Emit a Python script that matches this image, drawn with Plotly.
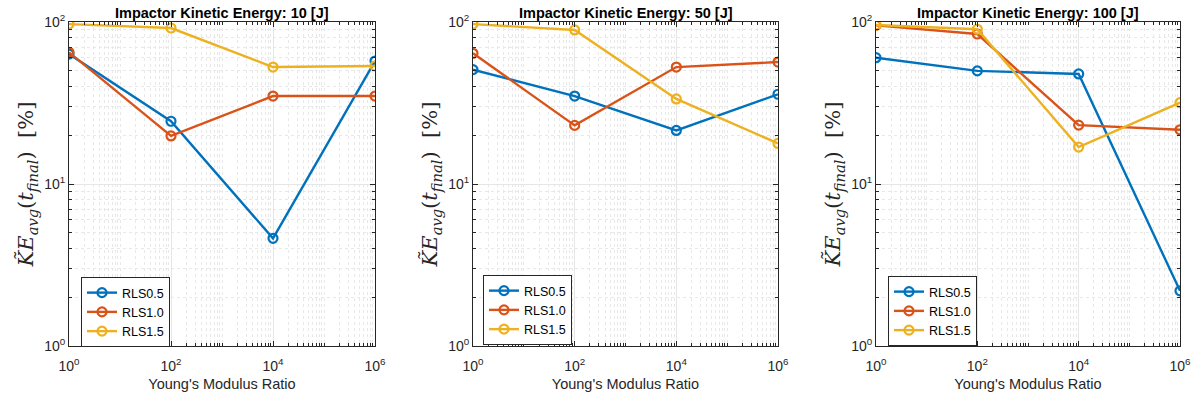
import plotly.graph_objects as go

x_ratio = [1, 100, 1e4, 1e6]
series_names = ["RLS0.5", "RLS1.0", "RLS1.5"]
energies = ["10", "50", "100"]

ke_10_rls05 = [63.4, 24.4, 4.62, 57.4]
ke_10_rls10 = [65.0, 19.8, 34.9, 34.9]
ke_10_rls15 = [97.0, 91.8, 52.7, 53.5]

ke_50_rls05 = [50.8, 34.9, 21.4, 35.8]
ke_50_rls10 = [64.1, 23.0, 52.7, 56.6]
ke_50_rls15 = [97.0, 89.3, 33.5, 17.8]

ke_100_rls05 = [60.2, 49.9, 47.8, 2.19]
ke_100_rls10 = [95.3, 84.3, 23.1, 21.6]
ke_100_rls15 = [95.8, 90.2, 16.9, 31.8]

panels = [
    [ke_10_rls05, ke_10_rls10, ke_10_rls15],
    [ke_50_rls05, ke_50_rls10, ke_50_rls15],
    [ke_100_rls05, ke_100_rls10, ke_100_rls15],
]
colors = ["#0072BD", "#D95319", "#EDB120"]

W, H = 1198, 400
px_x = [(69, 375), (473, 778), (876, 1180)]
py_top, py_bot = 22, 346
legend_pos = [(81, 277), (483, 275), (888, 276)]

fig = go.Figure()
axis_col = "#262626"
font_main = "Liberation Sans, Arial, Helvetica, sans-serif"

x_minor = [k * 10 ** d for d in range(0, 6) for k in range(1, 10) if not (k == 1 and d % 2 == 0)]
y_minor = [k * 10 ** d for d in range(0, 2) for k in range(2, 10)]

for i, vals in enumerate(panels):
    sfx = "" if i == 0 else str(i + 1)
    leg = "legend" if i == 0 else f"legend{i + 1}"
    for j, v in enumerate(vals):
        fig.add_trace(go.Scatter(
            x=x_ratio, y=v, mode="lines+markers", name=series_names[j],
            line=dict(color=colors[j], width=2.4),
            marker=dict(symbol="circle-open", size=9, color=colors[j], line=dict(width=2.2)),
            xaxis="x" + sfx, yaxis="y" + sfx, legend=leg, showlegend=True,
        ))
    x0, x1 = px_x[i]
    xa = dict(
        type="log", range=[0, 6], domain=[x0 / W, x1 / W], anchor="y" + sfx,
        automargin=False,
        tickvals=[1, 100, 1e4, 1e6],
        ticktext=["10<sup>0</sup>", "10<sup>2</sup>", "10<sup>4</sup>", "10<sup>6</sup>"],
        ticks="inside", ticklen=5, tickcolor=axis_col, tickwidth=1,
        ticklabelstandoff=7,
        showline=True, linecolor=axis_col, linewidth=1, mirror="ticks",
        showgrid=True, gridcolor="#e6e6e6", gridwidth=1,
        minor=dict(tickvals=x_minor, showgrid=True, gridcolor="#e8e8e8", griddash="dot",
                   ticks="inside", ticklen=3, tickcolor=axis_col),
        tickfont=dict(family=font_main, size=14, color=axis_col),
        title=dict(text="Young's Modulus Ratio", font=dict(family=font_main, size=14.5, color=axis_col), standoff=6),
        zeroline=False,
    )
    ya = dict(
        type="log", range=[0, 2], domain=[(H - py_bot) / H, (H - py_top) / H], anchor="x" + sfx,
        automargin=False,
        tickvals=[1, 10, 100],
        ticktext=["10<sup>0</sup>", "10<sup>1</sup>", "10<sup>2</sup>"],
        ticks="inside", ticklen=5, tickcolor=axis_col, tickwidth=1,
        showline=True, linecolor=axis_col, linewidth=1, mirror="ticks",
        showgrid=True, gridcolor="#e6e6e6", gridwidth=1,
        minor=dict(tickvals=y_minor, showgrid=True, gridcolor="#e8e8e8", griddash="dot",
                   ticks="inside", ticklen=3, tickcolor=axis_col),
        tickfont=dict(family=font_main, size=14, color=axis_col),
        title=dict(text="<i>K̃E</i><sub><i>avg</i></sub>(<i>t</i><sub><i>final</i></sub>)  [%]",
                   font=dict(family="DejaVu Serif, Liberation Serif, serif", size=21, color=axis_col), standoff=4),
        zeroline=False,
    )
    fig.layout["xaxis" + sfx] = xa
    fig.layout["yaxis" + sfx] = ya
    lx, ly = legend_pos[i]
    fig.layout[leg] = dict(
        x=lx / W, y=(H - ly) / H, xanchor="left", yanchor="top",
        bgcolor="white", bordercolor=axis_col, borderwidth=1,
        font=dict(family=font_main, size=12.5, color="black"),
        tracegroupgap=0, itemwidth=30,
    )
    fig.add_annotation(
        x=(x0 + x1) / 2 / W, y=(H - 3) / H, xref="paper", yref="paper",
        xanchor="center", yanchor="top", showarrow=False,
        text=f"<b>Impactor Kinetic Energy: {energies[i]} [J]</b>",
        font=dict(family=font_main, size=14.5, color="black"),
    )

fig.update_layout(
    width=W, height=H, margin=dict(l=0, r=0, t=0, b=0),
    paper_bgcolor="white", plot_bgcolor="white",
)

fig.write_html("out.html")
